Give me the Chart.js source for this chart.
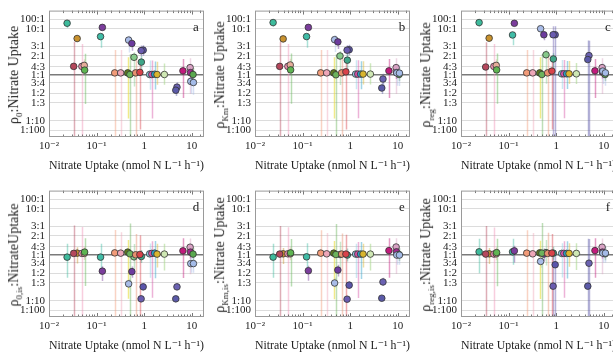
<!DOCTYPE html>
<html>
<head>
<meta charset="utf-8">
<script src="https://cdn.jsdelivr.net/npm/chart.js@4.4.1/dist/chart.umd.min.js"></script>
<style>
  html, body { margin: 0; padding: 0; background: #fff; }
  body { width: 613px; height: 352px; overflow: hidden; position: relative; }
  .panel { position: absolute; width: 220px; height: 176px; }
  .panel canvas { position: absolute; left: 0; top: 0; }
  .ytitle { position: absolute; left: 15px; top: 75px; transform: translate(-50%, -50%) rotate(-90deg);
            font: 14px 'Liberation Serif', 'DejaVu Serif', serif; color: #222; white-space: nowrap; }
  .ytitle sub { font-size: 9px; }
</style>
</head>
<body>
<script>
// Nitrate uptake (nmol N L-1 h-1), one entry per sample
const uptake = [0.024, 0.039, 0.033, 0.049, 0.055, 0.056, 0.121, 0.132, 0.24, 0.32, 0.47, 0.55, 0.61, 0.95, 0.86, 0.87,
  0.45, 0.50, 0.66, 0.81, 1.30, 1.44, 1.65, 1.86, 2.65, 6.5, 9.2, 9.35, 10.6, 9.5, 10.8, 4.87, 4.6];

// ratios (rho : nitrate uptake) for each panel
const rho0 = [22.3, 4.6, 1.35, 1.35, 1.40, 1.18, 5.2, 11.5, 1.07, 1.07, 4.2, 3.5, 1.9, 2.55, 2.5, 1.58,
  1.07, 1.01, 1.07, 1.09, 1.01, 1.01, 1.02, 1.01, 1.01, 1.15, 1.29, 1.08, 1.01, 0.79, 0.76, 0.64, 0.57];
const rhoKm = [26, 4.5, 1.35, 1.35, 1.42, 1.19, 5.2, 11.5, 1.07, 1.07, 4.3, 3.8, 2.0, 2.6, 2.55, 1.7,
  1.07, 1.0, 1.07, 1.11, 1.025, 1.025, 1.025, 1.025, 1.025, 1.15, 1.29, 1.08, 1.01, 1.07, 1.06, 0.86, 0.62];
const rhoReg = [26, 4.7, 1.32, 1.35, 1.40, 1.19, 5.8, 22, 1.07, 1.07, 9.9, 5.9, 2.1, 5.9, 5.9, 1.78,
  1.07, 1.01, 1.07, 1.14, 1.035, 1.035, 1.035, 1.035, 1.035, 1.15, 1.29, 1.10, 1.01, 1.14, 1.07, 2.03, 1.74];
const rho0is = [0.92, 1.06, 1.05, 1.05, 1.05, 1.10, 0.92, 0.55, 1.07, 1.06, 0.32, 0.54, 0.93, 0.275, 0.123, 0.94,
  1.10, 1.035, 1.0, 1.01, 1.035, 1.05, 1.06, 1.025, 1.025, 1.15, 1.31, 1.10, 1.025, 0.73, 0.73, 0.275, 0.123];
const rhoKmIs = [0.92, 1.035, 1.025, 1.035, 1.035, 1.07, 0.93, 0.56, 1.06, 1.035, 0.333, 0.574, 1.01, 0.30, 0.119, 0.99,
  1.06, 1.01, 1.025, 1.025, 1.025, 1.025, 1.025, 1.025, 1.025, 1.16, 1.32, 1.11, 1.01, 0.99, 0.99, 0.35, 0.13];
const rhoRegIs = [1.11, 1.035, 1.025, 1.025, 1.035, 1.08, 1.11, 1.15, 1.06, 1.035, 0.79, 1.025, 1.08, 0.70, 0.285, 1.06,
  1.07, 1.06, 1.05, 1.06, 1.05, 1.05, 1.05, 1.05, 1.05, 1.16, 1.31, 1.10, 1.035, 1.06, 1.06, 0.74, 0.285];

// error bars as log10 factors below / above the ratio (Infinity = down to zero)
const Inf = Infinity;
const errTopLo = [0.32, 0.08, Inf, Inf, 0.1, 0.57, 0.26, 0.1, Inf, Inf, 0.26, 0.15, 0.46, 0.1, 0.1, 0.15,
  0.93, Inf, Inf, 1.86, 0.24, 0.9, 0.24, 0.16, 0.16, 0.44, 0.42, 0.1, 0.1, 0.2, 0.2, 0.1, 0.1];
const errTopHi = [0.04, 0.08, 0.45, 0.40, 0.1, 0.27, 0.04, 0.05, 0.38, 0.38, 0.12, 0.05, 0.09, 0.1, 0.1, 0.1,
  0.25, 0.33, 0.28, 0.21, 0.22, 0.22, 0.2, 0.2, 0.17, 0.19, 0.15, 0.1, 0.1, 0.12, 0.12, 0.08, 0.08];
const errBotLo = [0.34, 0.16, Inf, Inf, 0.1, 0.58, 0.2, 0.18, Inf, Inf, 0.1, 0.11, 0.2, 0.08, 0.08, 0.1,
  0.95, Inf, Inf, Inf, 0.39, 0.89, 0.41, 0.21, 0.26, 0.44, 0.43, 0.1, 0.1, 0.15, 0.15, 0.08, 0.08];
const errBotHi = [0.21, 0.09, 0.48, 0.45, 0.1, 0.22, 0.21, 0.08, 0.38, 0.34, 0.1, 0.085, 0.2, 0.08, 0.08, 0.1,
  0.19, 0.53, 0.335, 0.31, 0.16, 0.19, 0.19, 0.16, 0.16, 0.2, 0.14, 0.1, 0.1, 0.1, 0.1, 0.08, 0.08];
// the rho_reg panels have a few much wider bars
const regTopOver = { 13: [Inf, 0.35], 14: [Inf, 0.35], 31: [Inf, 0.3], 32: [Inf, 0.37] };
const regBotOver = { 13: [Inf, 0.18], 14: [Inf, 0.57], 31: [Inf, 0.38], 32: [Inf, 0.8] };

const yTickRatios = [100, 10, 3, 2, 4 / 3, 1, 3 / 4, 1 / 2, 1 / 3, 1 / 10, 1 / 100];
const yTickLabels = ['100:1', '10:1', '3:1', '2:1', '4:3', '1:1', '3:4', '1:2', '1:3', '1:10', '1:100'];

const pointColors = ['#3dbb9c', '#c9922e', '#b5475c', '#ef8fb3', '#e6ad9a', '#5fb552', '#3fbca6', '#7b3d9c',
  '#f29b78', '#eea6b8', '#a9bce8', '#6c3b9e', '#86c98a', '#5b55ab', '#6a5cb0', '#3fa688', '#5f7a1f', '#6cb35c',
  '#e8906f', '#d9434a', '#8ccbe3', '#d653a6', '#2c9fc8', '#d9b52e', '#cfe8b4', '#c21a7c', '#d8a2c4', '#a1298f',
  '#5aa84f', '#a9c0ea', '#a4bbe8', '#6b62b2', '#5b5aa8'];
const barColors = pointColors.map(c => c + '70');
barColors[16] = '#e6dc3c99';
barColors[24] = '#a8d88c90';

const FONT = "'Liberation Serif', 'DejaVu Serif', serif";
Chart.defaults.font.family = FONT;
Chart.defaults.color = '#222';

// axis is linear in (r-1)/(r+1)
const toT = r => (r - 1) / (r + 1);

const panels = [
  { letter: 'a', values: rho0, lo: errTopLo, hi: errTopHi, over: {}, title: 'ρ<sub>0</sub>:Nitrate Uptake', col: 0, row: 0 },
  { letter: 'b', values: rhoKm, lo: errTopLo, hi: errTopHi, over: {}, title: 'ρ<sub>Km</sub>:Nitrate Uptake', col: 1, row: 0 },
  { letter: 'c', values: rhoReg, lo: errTopLo, hi: errTopHi, over: regTopOver, title: 'ρ<sub>reg</sub>:Nitrate Uptake', col: 2, row: 0 },
  { letter: 'd', values: rho0is, lo: errBotLo, hi: errBotHi, over: {}, title: 'ρ<sub>0,is</sub>:NitrateUptake', col: 0, row: 1 },
  { letter: 'e', values: rhoKmIs, lo: errBotLo, hi: errBotHi, over: {}, title: 'ρ<sub>Km,is</sub>:Nitrate Uptake', col: 1, row: 1 },
  { letter: 'f', values: rhoRegIs, lo: errBotLo, hi: errBotHi, over: regBotOver, title: 'ρ<sub>reg,is</sub>:Nitrate Uptake', col: 2, row: 1 },
];

function xLabel(v) {
  const e = Math.log10(v);
  if (Math.abs(e - Math.round(e)) > 1e-6) return '';
  const n = Math.round(e);
  return { '-2': '10⁻²', '-1': '10⁻¹', '0': '1', '1': '10' }[n] || '';
}

// error bars, box, minor ticks and panel letter
function decorPlugin(p) {
  return {
    id: 'decor' + p.letter,
    beforeDatasetsDraw(chart) {
      const { ctx, chartArea: a, scales: { x, y } } = chart;
      ctx.save();
      ctx.beginPath();
      ctx.rect(a.left, a.top, a.right - a.left, a.bottom - a.top);
      ctx.clip();
      ctx.lineWidth = 1.5;
      p.values.forEach((r, i) => {
        const lo = p.over[i] ? p.over[i][0] : p.lo[i];
        const hi = p.over[i] ? p.over[i][1] : p.hi[i];
        const px = Math.round(x.getPixelForValue(uptake[i])) + 0.5;
        const yTop = y.getPixelForValue(toT(r * Math.pow(10, hi)));
        const yBot = lo === Infinity ? a.bottom : y.getPixelForValue(toT(r / Math.pow(10, lo)));
        ctx.strokeStyle = barColors[i];
        ctx.beginPath();
        ctx.moveTo(px, yTop);
        ctx.lineTo(px, yBot);
        ctx.stroke();
      });
      ctx.restore();
    },
    afterDraw(chart) {
      const { ctx, chartArea: a, scales: { x } } = chart;
      ctx.save();
      ctx.strokeStyle = '#555';
      ctx.lineWidth = 0.8;
      x.ticks.forEach(t => {
        const px = Math.round(x.getPixelForValue(t.value)) + 0.5;
        if (px < a.left + 2 || px > a.right - 2) return;
        const len = xLabel(t.value) ? 4 : 2.5;
        ctx.beginPath();
        ctx.moveTo(px, a.top); ctx.lineTo(px, a.top + len);
        ctx.moveTo(px, a.bottom); ctx.lineTo(px, a.bottom - len);
        ctx.stroke();
      });
      ctx.strokeStyle = '#9a9a9a';
      ctx.lineWidth = 1;
      ctx.strokeRect(a.left + 0.5, a.top + 0.5, a.right - a.left - 1, a.bottom - a.top - 1);
      ctx.fillStyle = '#222';
      ctx.font = '13px ' + FONT;
      ctx.textAlign = 'center';
      ctx.textBaseline = 'middle';
      ctx.fillText(p.letter, a.right - 8, a.top + 17);
      ctx.restore();
    }
  };
}

panels.forEach(p => {
  const div = document.createElement('div');
  div.className = 'panel';
  div.style.left = (p.col * 206) + 'px';
  div.style.top = (p.row * 180) + 'px';
  const canvas = document.createElement('canvas');
  canvas.width = 220;
  canvas.height = 176;
  div.appendChild(canvas);
  const yt = document.createElement('div');
  yt.className = 'ytitle';
  yt.innerHTML = p.title;
  div.appendChild(yt);
  document.body.appendChild(div);

  new Chart(canvas, {
    type: 'scatter',
    data: {
      datasets: [{
        data: p.values.map((r, i) => ({ x: uptake[i], y: toT(r) })),
        backgroundColor: pointColors,
        borderColor: '#333',
        borderWidth: 0.8,
        pointRadius: 3.3,
      }]
    },
    options: {
      responsive: false,
      animation: false,
      devicePixelRatio: 1,
      layout: { padding: { top: 7, right: 16, left: 0, bottom: 0 } },
      plugins: { legend: { display: false }, tooltip: { enabled: false } },
      scales: {
        x: {
          type: 'logarithmic',
          min: 0.01,
          max: 18,
          afterFit: s => { s.height = 39; },
          grid: { display: false, drawTicks: false },
          border: { display: false },
          ticks: { autoSkip: false, maxRotation: 0, padding: 3, font: { size: 11 }, callback: xLabel },
          title: { display: true, text: 'Nitrate Uptake (nmol N L⁻¹ h⁻¹)', font: { size: 12 }, padding: { top: 0, bottom: 3 } }
        },
        y: {
          type: 'linear',
          min: -1.103,
          max: 1.138,
          afterFit: s => { s.width = 49; },
          afterBuildTicks: s => { s.ticks = yTickRatios.map(r => ({ value: toT(r) })); },
          grid: {
            drawTicks: false,
            color: c => (c.tick && Math.abs(c.tick.value) < 1e-9 ? '#7a7a7a' : '#dcdcdc'),
            lineWidth: c => (c.tick && Math.abs(c.tick.value) < 1e-9 ? 1.5 : 1)
          },
          border: { display: false },
          ticks: { autoSkip: false, padding: 4, font: { size: 11 }, callback: (v, i) => yTickLabels[i] }
        }
      }
    },
    plugins: [decorPlugin(p)]
  });
});
</script>
</body>
</html>
